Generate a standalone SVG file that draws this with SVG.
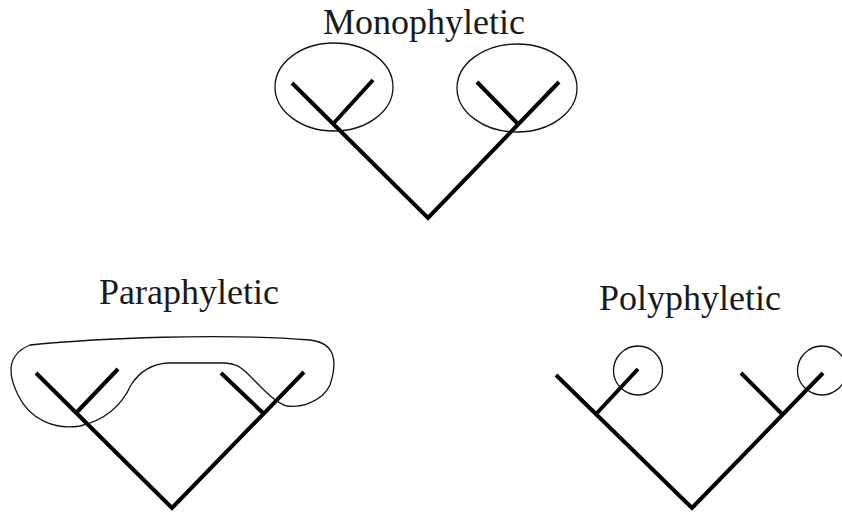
<svg xmlns="http://www.w3.org/2000/svg" width="842" height="513" viewBox="0 0 842 513">
<style>
.br{stroke:#000;stroke-width:4;fill:none;stroke-linecap:butt}
.ol{stroke:#111;stroke-width:1.3;fill:none}
.lb{font-family:"Liberation Serif","Times New Roman",serif;font-size:36px;fill:#1a1a1a;text-anchor:middle}
</style>
<rect width="842" height="513" fill="#fff"/>
<g id="monophyletic">
<text class="lb" x="424" y="34">Monophyletic</text>
<g id="mono-tree">
<path class="br" d="M292,83 L428,218 L559,82 M333,124 L373,80 M517,123 L477,82"/>
</g>
<ellipse class="ol" cx="334" cy="87" rx="59" ry="44"/>
<ellipse class="ol" cx="517" cy="88" rx="60" ry="44"/>
</g>
<g id="paraphyletic">
<text class="lb" x="189" y="304">Paraphyletic</text>
<g id="para-tree">
<path class="br" d="M36,373 L172,508 L304,372 M77,412 L118,369 M263,413 L221,373"/>
</g>
<path class="ol" d="M30,345 C100,338 220,333 310,340 C335,343 338,360 330,385 C322,402 300,408 287,406 C275,403 262,388 248,374 C240,366 235,364 225,363 L168,363 C150,364 138,374 131,385 C122,405 105,420 80,426 C55,430 30,420 18,395 C8,375 6,355 30,345 Z"/>
</g>
<g id="polyphyletic">
<text class="lb" x="690" y="310">Polyphyletic</text>
<g id="poly-tree">
<path class="br" d="M556,375 L692,508 L823,373 M597,413 L638,369 M782,414 L741,373"/>
</g>
<circle class="ol" cx="638" cy="370.5" r="24.5"/>
<circle class="ol" cx="822" cy="370.5" r="24.5"/>
</g>
</svg>
